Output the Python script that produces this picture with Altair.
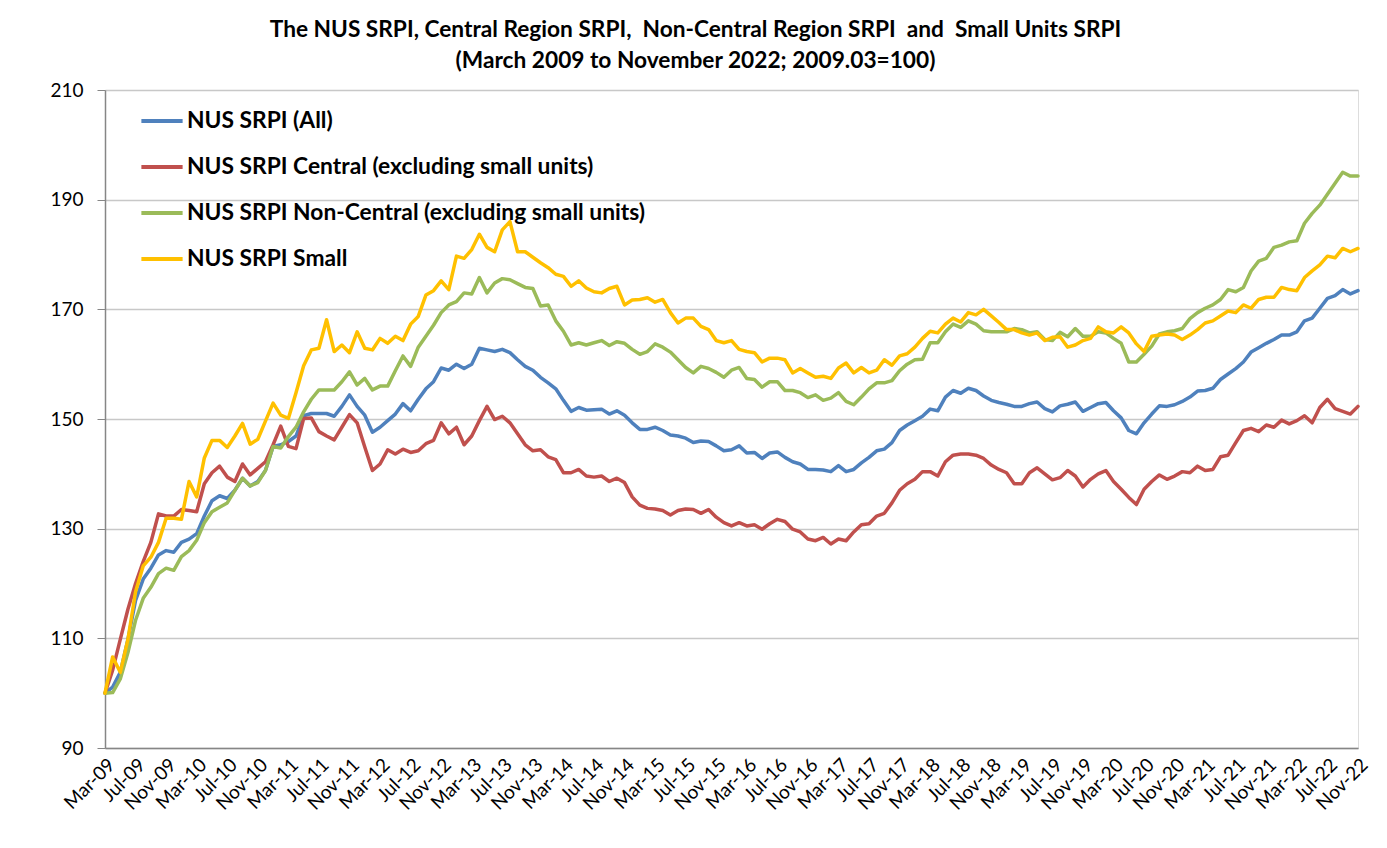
import altair as alt
import pandas as pd

MONTH_NAMES = ["Jan", "Feb", "Mar", "Apr", "May", "Jun",
               "Jul", "Aug", "Sep", "Oct", "Nov", "Dec"]
# Mar-09 ... Nov-22 (165 months)
months = [f"{MONTH_NAMES[(2 + i) % 12]}-{9 + (2 + i) // 12:02d}" for i in range(165)]
tick_labels = months[::4]

series_names = [
    "NUS SRPI (All)",
    "NUS SRPI Central (excluding small units)",
    "NUS SRPI Non-Central (excluding small units)",
    "NUS SRPI Small",
]
series_colors = ["#4F81BD", "#C0504D", "#9BBB59", "#FFC000"]

srpi_all = [
    100, 101.1, 103.8, 109.8, 116.9, 120.8, 122.8, 125.2, 126.0, 125.7, 127.5, 128.1, 129.1, 132.3, 135.1, 136.0,
    135.5, 137.0, 139.2, 137.8, 138.6, 140.6, 145.0, 145.3, 145.9, 146.9, 150.6, 151.0, 151.0, 151.0, 150.5, 152.3,
    154.4, 152.3, 150.7, 147.6, 148.5, 149.7, 150.9, 152.8, 151.5, 153.6, 155.5, 156.8, 159.3, 158.9, 160.0, 159.2,
    160.0, 162.9, 162.6, 162.3, 162.7, 162.1, 160.8, 159.6, 158.9, 157.6, 156.6, 155.5, 153.4, 151.4, 152.1, 151.6,
    151.7, 151.8, 150.9, 151.5, 150.7, 149.3, 148.1, 148.1, 148.5, 147.9, 147.1, 146.9, 146.5, 145.7, 146.0, 145.9,
    145.1, 144.2, 144.4, 145.1, 143.8, 143.9, 142.8, 143.8, 144.0, 143.0, 142.2, 141.8, 140.8, 140.8, 140.7,
    140.4, 141.5, 140.4, 140.8, 142.0, 143.0, 144.2, 144.5, 145.7, 147.9, 148.9, 149.7, 150.5, 151.8, 151.5, 154.0,
    155.2, 154.7, 155.6, 155.2, 154.2, 153.4, 153.0, 152.7, 152.3, 152.3, 152.8, 153.1, 151.9, 151.3, 152.4, 152.7,
    153.1, 151.4, 152.1, 152.8, 153.0, 151.5, 150.2, 147.9, 147.3, 149.3, 150.9, 152.4, 152.3, 152.6, 153.2, 154.0,
    155.1, 155.2, 155.6, 157.2, 158.2, 159.2, 160.4, 162.2, 163.0, 163.8, 164.5, 165.3, 165.3, 165.9, 167.9, 168.4,
    170.2, 172.0, 172.5, 173.6, 172.8, 173.4,
]
srpi_central = [
    100, 104.2, 109.8, 115.3, 120.0, 124.0, 127.5, 132.7, 132.3, 132.3, 133.5, 133.3, 133.1, 138.2, 140.2, 141.4,
    139.4, 138.6, 141.8, 139.8, 141.0, 142.2, 145.3, 148.7, 145.0, 144.6, 150.1, 150.2, 147.7, 146.9, 146.2, 148.5,
    150.8, 149.3, 144.9, 140.6, 141.8, 144.4, 143.6, 144.5, 143.9, 144.2, 145.5, 146.1, 149.3, 147.3, 148.5, 145.3,
    146.9, 149.7, 152.3, 149.9, 150.5, 149.3, 147.3, 145.3, 144.2, 144.4, 143.1, 142.6, 140.2, 140.2, 140.8, 139.6,
    139.4, 139.6, 138.6, 139.2, 138.4, 135.8, 134.3, 133.7, 133.6, 133.3, 132.5, 133.3, 133.6, 133.5, 132.8, 133.5,
    132.1, 131.1, 130.5, 131.1, 130.5, 130.7, 129.9, 130.9, 131.7, 131.3, 129.9, 129.4, 128.1, 127.8, 128.4,
    127.2, 128.1, 127.8, 129.4, 130.7, 130.9, 132.3, 132.8, 134.7, 137.0, 138.2, 139.0, 140.4, 140.4, 139.6, 142.2,
    143.4, 143.6, 143.6, 143.4, 142.8, 141.6, 140.8, 140.2, 138.2, 138.2, 140.2, 141.1, 140.0, 138.9, 139.3, 140.6,
    139.6, 137.6, 139.0, 140.0, 140.6, 138.6, 137.2, 135.7, 134.4, 137.2, 138.6, 139.8, 139.0, 139.6, 140.4, 140.2,
    141.4, 140.6, 140.8, 143.1, 143.4, 145.7, 147.9, 148.3, 147.7, 148.9, 148.5, 149.8, 149.1, 149.7, 150.6, 149.3,
    152.1, 153.6, 151.9, 151.4, 150.9, 152.3,
]
srpi_noncentral = [
    100, 100.1, 102.6, 107.4, 113.3, 117.3, 119.3, 121.8, 122.8, 122.4, 124.9, 126.0, 127.9, 131.1, 133.1, 133.9,
    134.7, 137.0, 139.2, 137.8, 138.4, 140.6, 145.0, 144.7, 146.8, 148.5, 151.3, 153.6, 155.3, 155.3, 155.3, 156.8,
    158.6, 156.2, 157.4, 155.3, 156.0, 156.0, 158.8, 161.5, 159.6, 163.1, 165.1, 167.1, 169.4, 170.8, 171.4, 173.0,
    172.8, 175.8, 173.0, 174.8, 175.6, 175.4, 174.7, 174.0, 173.8, 170.6, 170.8, 167.9, 166.0, 163.5, 163.9, 163.5,
    163.9, 164.3, 163.4, 164.1, 163.8, 162.7, 161.8, 162.3, 163.7, 163.1, 162.2, 160.8, 159.4, 158.4, 159.6, 159.2,
    158.5, 157.6, 158.9, 159.4, 157.4, 157.2, 155.8, 156.8, 156.8, 155.2, 155.2, 154.8, 153.9, 154.4, 153.4,
    153.8, 154.8, 153.2, 152.6, 154.0, 155.5, 156.6, 156.6, 157.0, 158.8, 160.0, 160.8, 160.9, 163.9, 163.9, 165.9,
    167.3, 166.7, 167.9, 167.3, 166.1, 165.9, 165.9, 165.9, 166.5, 166.3, 165.7, 165.9, 164.5, 164.3, 165.8, 165.0,
    166.5, 165.1, 165.1, 165.9, 165.7, 164.7, 163.8, 160.4, 160.4, 161.8, 163.3, 165.5, 165.9, 166.1, 166.5, 168.3,
    169.4, 170.2, 170.8, 171.8, 173.6, 173.2, 174.0, 177.0, 178.8, 179.3, 181.3, 181.7, 182.3, 182.5, 185.7, 187.5,
    189.0, 191.0, 193.0, 195.0, 194.3, 194.3,
]
srpi_small = [
    100, 106.6, 103.8, 109.8, 118.5, 123.2, 124.8, 127.5, 131.9, 131.9, 131.7, 138.6, 135.8, 142.9, 146.1, 146.1,
    144.8, 146.9, 149.2, 145.4, 146.3, 149.6, 152.9, 150.7, 150.1, 154.8, 159.7, 162.6, 162.9, 168.1, 162.3, 163.5,
    162.1, 165.9, 162.9, 162.6, 164.7, 163.8, 165.1, 164.3, 167.3, 168.7, 172.6, 173.4, 175.2, 173.6, 179.7, 179.3,
    180.9, 183.7, 181.3, 180.5, 184.5, 186.0, 180.5, 180.5, 179.5, 178.5, 177.6, 176.4, 176.0, 174.2, 175.2, 173.9,
    173.2, 173.0, 173.8, 174.2, 170.8, 171.7, 171.8, 172.1, 171.3, 171.8, 169.4, 167.5, 168.4, 168.4, 166.9, 166.3,
    164.3, 163.9, 164.3, 162.7, 162.3, 162.1, 160.4, 161.1, 161.1, 160.8, 158.4, 159.2, 158.4, 157.6, 157.8,
    157.4, 159.3, 160.2, 158.4, 159.4, 158.4, 158.9, 160.8, 159.8, 161.5, 161.9, 163.1, 164.7, 166.0, 165.7, 167.3,
    168.4, 167.7, 169.4, 169.0, 170.0, 168.8, 167.6, 166.3, 166.3, 165.7, 165.3, 165.7, 164.3, 164.9, 165.0, 163.1,
    163.5, 164.3, 164.7, 166.8, 165.9, 165.7, 166.8, 165.7, 163.7, 162.3, 165.1, 165.3, 165.5, 165.3, 164.5, 165.3,
    166.3, 167.5, 167.9, 168.8, 169.7, 169.4, 170.8, 170.2, 171.8, 172.2, 172.2, 174.0, 173.6, 173.4, 175.8, 177.0,
    178.1, 179.7, 179.4, 181.1, 180.5, 181.1,
]

all_series = [srpi_all, srpi_central, srpi_noncentral, srpi_small]
for s in all_series:
    assert len(s) == len(months), len(s)

rows = []
for k, (name, vals) in enumerate(zip(series_names, all_series)):
    for m, v in zip(months, vals):
        rows.append({"month": m, "series": name, "value": v, "k": k})
df = pd.DataFrame(rows)

FONT = "Lato"
NB = "\u00a0"
title_lines = [
    f"The NUS SRPI, Central Region SRPI, {NB}Non-Central Region SRPI {NB}and {NB}Small Units SRPI",
    "(March 2009 to November 2022; 2009.03=100)",
]

chart = alt.Chart(df).mark_line(strokeWidth=3.5, strokeJoin="round", strokeCap="round").encode(
    x=alt.X(
        "month:O",
        sort=months,
        scale=alt.Scale(type="point", padding=0),
        axis=alt.Axis(
            title=None,
            values=tick_labels,
            labelAngle=-45,
            labelFontSize=19,
            labelFont=FONT,
            labelColor="#000000",
            labelPadding=7,
            ticks=False,
            grid=False,
            domainColor="#868686",
            domainWidth=1.5,
        ),
    ),
    y=alt.Y(
        "value:Q",
        scale=alt.Scale(domain=[90, 210], nice=False, zero=False),
        axis=alt.Axis(
            title=None,
            values=[90, 110, 130, 150, 170, 190, 210],
            labelFontSize=19,
            labelFont=FONT,
            labelColor="#000000",
            labelPadding=14,
            tickSize=8,
            tickColor="#868686",
            domainColor="#868686",
            domainWidth=1.5,
            gridColor="#C8C8C8",
            gridWidth=1.5,
        ),
    ),
    color=alt.Color(
        "series:N",
        scale=alt.Scale(domain=series_names, range=series_colors),
        legend=alt.Legend(
            title=None,
            orient="none",
            legendX=34,
            legendY=8,
            symbolType="stroke",
            symbolSize=1700,
            symbolStrokeWidth=4,
            labelFont=FONT,
            labelFontSize=22.8,
            labelFontWeight="bold",
            labelColor="#000000",
            labelLimit=700,
            labelOffset=2,
            rowPadding=11,
            padding=0,
        ),
    ),
    order=alt.Order("k:Q"),
).properties(
    width=1253,
    height=658,
    title=alt.TitleParams(
        text=title_lines,
        font=FONT,
        fontSize=22.7,
        fontWeight="bold",
        color="#000000",
        anchor="middle",
        dx=-36,
        offset=8,
        lineHeight=31,
    ),
    autosize=alt.AutoSizeParams(type="none"),
    padding={"left": 97, "top": 82, "right": 20, "bottom": 90},
).configure_view(
    stroke=None
).configure(
    background="#FFFFFF"
)

chart.save("out.html", embed_options={"renderer": "svg", "actions": False})
